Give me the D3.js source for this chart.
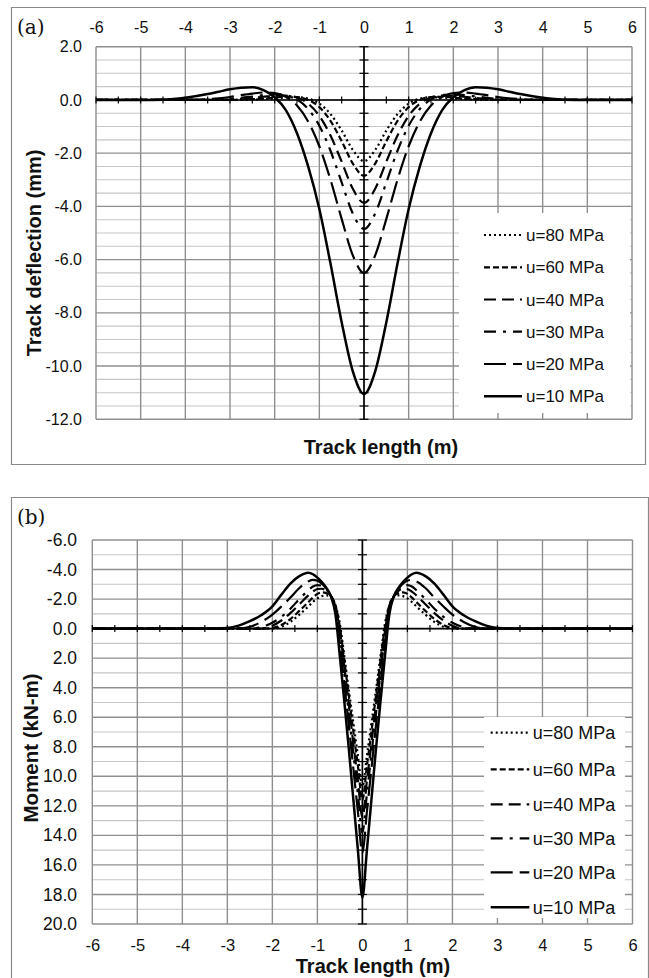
<!DOCTYPE html>
<html><head><meta charset="utf-8">
<script src="https://cdn.jsdelivr.net/npm/d3@7/dist/d3.min.js"></script>
<style>
body{margin:0;background:#fff}
text{font-family:"Liberation Sans",Arial,sans-serif;fill:#111}
</style>
</head><body>
<svg id="chart" width="649" height="978" xmlns="http://www.w3.org/2000/svg"></svg>
<script>
// ---------- data ----------
const seriesLabels = ["u=80 MPa","u=60 MPa","u=40 MPa","u=30 MPa","u=20 MPa","u=10 MPa"];
const xTickValues = [-6,-5,-4,-3,-2,-1,0,1,2,3,4,5,6];
const deflectionTicks = [2,0,-2,-4,-6,-8,-10,-12];
const momentTicks = [-6,-4,-2,0,2,4,6,8,10,12,14,16,18,20];

// Panel (a): track deflection (mm) vs track length (m)
const xDeflection = [-6,-5,-4.5,-4,-3.5,-3.25,-3,-2.75,-2.5,-2.25,-2,-1.75,-1.5,-1.25,-1,-0.75,-0.5,-0.25,0,0.25,0.5,0.75,1,1.25,1.5,1.75,2,2.25,2.5,2.75,3,3.25,3.5,4,4.5,5,6];
const deflection80 = [0,0,0,0,0,0,0,0,0.01,0.03,0.06,0.09,0.1,0.05,-0.14,-0.53,-1.15,-1.88,-2.3,-1.88,-1.15,-0.53,-0.14,0.05,0.1,0.09,0.06,0.03,0.01,0,0,0,0,0,0,0,0];
const deflection60 = [0,0,0,0,0,0,0,0.01,0.03,0.05,0.09,0.12,0.11,0,-0.27,-0.79,-1.55,-2.39,-2.85,-2.39,-1.55,-0.79,-0.27,0,0.11,0.12,0.09,0.05,0.03,0.01,0,0,0,0,0,0,0];
const deflection40 = [0,0,0,0,0,0,0.01,0.04,0.07,0.12,0.16,0.16,0.09,-0.14,-0.6,-1.34,-2.32,-3.34,-3.87,-3.34,-2.32,-1.34,-0.6,-0.14,0.09,0.16,0.16,0.12,0.07,0.04,0.01,0,0,0,0,0,0];
const deflection30 = [0,0,0,0,0,0.01,0.04,0.08,0.13,0.18,0.21,0.18,0.02,-0.34,-0.97,-1.91,-3.1,-4.27,-4.85,-4.27,-3.1,-1.91,-0.97,-0.34,0.02,0.18,0.21,0.18,0.13,0.08,0.04,0.01,0,0,0,0,0];
const deflection20 = [0,0,0,0,0.03,0.06,0.11,0.18,0.24,0.28,0.26,0.12,-0.21,-0.81,-1.74,-3.0,-4.47,-5.84,-6.5,-5.84,-4.47,-3.0,-1.74,-0.81,-0.21,0.12,0.26,0.28,0.24,0.18,0.11,0.06,0.03,0,0,0,0];
const deflection10 = [0,0,0.01,0.08,0.22,0.31,0.4,0.46,0.48,0.37,0.1,-0.38,-1.25,-2.5,-4.1,-6.15,-8.35,-10.2,-11.05,-10.2,-8.35,-6.15,-4.1,-2.5,-1.25,-0.38,0.1,0.37,0.48,0.46,0.4,0.31,0.22,0.08,0.01,0,0];

// Panel (b): moment (kN-m) vs track length (m)
const xMoment = [-6,-5,-4,-3.5,-3,-2.75,-2.5,-2.25,-2,-1.8,-1.6,-1.4,-1.2,-1.1,-1,-0.9,-0.8,-0.7,-0.6,-0.5,-0.4,-0.3,-0.2,-0.1,0,0.1,0.2,0.3,0.4,0.5,0.6,0.7,0.8,0.9,1,1.1,1.2,1.4,1.6,1.8,2,2.25,2.5,2.75,3,3.5,4,5,6];
const moment80 = [0,0,0,0,0,0,0,0,0,-0.12,-0.45,-0.95,-1.5,-1.8,-2.05,-2.2,-2.25,-2.15,-1.6,-0.3,1.9,4.2,6.4,8.6,10.7,8.6,6.4,4.2,1.9,-0.3,-1.6,-2.15,-2.25,-2.2,-2.05,-1.8,-1.5,-0.95,-0.45,-0.12,0,0,0,0,0,0,0,0,0];
const moment60 = [0,0,0,0,0,0,0,0,-0.05,-0.25,-0.65,-1.2,-1.8,-2.1,-2.35,-2.45,-2.4,-2.2,-1.6,-0.1,2.2,4.6,7.0,9.3,11.6,9.3,7.0,4.6,2.2,-0.1,-1.6,-2.2,-2.4,-2.45,-2.35,-2.1,-1.8,-1.2,-0.65,-0.25,-0.05,0,0,0,0,0,0,0,0];
const moment40 = [0,0,0,0,0,0,0,0,-0.2,-0.55,-1.05,-1.65,-2.25,-2.5,-2.68,-2.7,-2.55,-2.2,-1.5,0.2,2.6,5.2,7.8,10.3,12.8,10.3,7.8,5.2,2.6,0.2,-1.5,-2.2,-2.55,-2.7,-2.68,-2.5,-2.25,-1.65,-1.05,-0.55,-0.2,0,0,0,0,0,0,0,0];
const moment30 = [0,0,0,0,0,0,0,-0.1,-0.4,-0.8,-1.35,-2.0,-2.6,-2.85,-2.95,-2.9,-2.65,-2.2,-1.4,0.5,3.1,5.8,8.5,11.2,13.8,11.2,8.5,5.8,3.1,0.5,-1.4,-2.2,-2.65,-2.9,-2.95,-2.85,-2.6,-2.0,-1.35,-0.8,-0.4,-0.1,0,0,0,0,0,0,0];
const moment20 = [0,0,0,0,0,0,-0.12,-0.45,-0.95,-1.5,-2.1,-2.75,-3.2,-3.3,-3.25,-3.05,-2.7,-2.2,-1.3,1.0,3.8,6.6,9.5,12.4,15.2,12.4,9.5,6.6,3.8,1.0,-1.3,-2.2,-2.7,-3.05,-3.25,-3.3,-3.2,-2.75,-2.1,-1.5,-0.95,-0.45,-0.12,0,0,0,0,0,0];
const moment10 = [0,0,0,0,-0.05,-0.2,-0.5,-0.9,-1.5,-2.3,-3.05,-3.55,-3.78,-3.68,-3.45,-3.15,-2.75,-2.2,-1.0,1.9,5.0,8.2,11.6,15.0,18.2,15.0,11.6,8.2,5.0,1.9,-1.0,-2.2,-2.75,-3.15,-3.45,-3.68,-3.78,-3.55,-3.05,-2.3,-1.5,-0.9,-0.5,-0.2,-0.05,0,0,0,0];

// ---------- styles ----------
const dashes = ["2,3","6,3","12,6","12,7,3,7","22,7",null];
const widths = [2.2,2.2,2.2,2.2,2.2,2.5];

const loc = d3.formatLocale({decimal:".",thousands:",",grouping:[3],currency:["$",""],minus:"-"});
const svg = d3.select("#chart");

function drawPanel(o){
  const g = svg.append("g");
  const x = d3.scaleLinear().domain([-6,6]).range([o.left,o.right]);
  const y = d3.scaleLinear().domain(o.yDomain).range([o.top,o.bottom]);
  const yMin = Math.min(...o.yDomain), yMax = Math.max(...o.yDomain);

  // outer frame
  g.append("path").attr("d", o.framePath).attr("fill","none").attr("stroke","#8a8a8a").attr("stroke-width",1.2);

  // label (a)/(b)
  g.append("text").text(o.tag).attr("x",o.tagX).attr("y",o.tagY)
    .style("font-family","'DejaVu Serif',serif").style("font-size","20px");

  // horizontal gridlines
  const minorVals = d3.range(yMin, yMax+1e-9, o.minorStep);
  const isMajor = d => Math.abs(d/o.majorStep - Math.round(d/o.majorStep))<1e-6;
  g.append("g").selectAll("line").data(minorVals).join("line")
    .attr("x1",o.left).attr("x2",o.right).attr("y1",d=>y(d)).attr("y2",d=>y(d))
    .attr("stroke", d => isMajor(d) ? "#8f8f8f" : "#c6c6c6")
    .attr("stroke-width", d => isMajor(d) ? 1.4 : 1.1);
  // vertical gridlines
  g.append("g").selectAll("line").data(xTickValues).join("line")
    .attr("x1",d=>x(d)).attr("x2",d=>x(d)).attr("y1",o.top).attr("y2",o.bottom)
    .attr("stroke","#8f8f8f").attr("stroke-width",1.4);

  // zero axes (black) with crossing ticks
  g.append("line").attr("x1",o.left).attr("x2",o.right).attr("y1",y(0)).attr("y2",y(0))
    .attr("stroke","#000").attr("stroke-width",1.6);
  g.append("line").attr("x1",x(0)).attr("x2",x(0)).attr("y1",o.top).attr("y2",o.bottom)
    .attr("stroke","#000").attr("stroke-width",1.6);
  g.append("g").selectAll("line").data(d3.range(-6,6.001,0.5)).join("line")
    .attr("x1",d=>x(d)).attr("x2",d=>x(d)).attr("y1",y(0)-3.5).attr("y2",y(0)+3.5)
    .attr("stroke","#000").attr("stroke-width",1.2);
  g.append("g").selectAll("line").data(minorVals).join("line")
    .attr("x1",x(0)-4.5).attr("x2",x(0)+4.5).attr("y1",d=>y(d)).attr("y2",d=>y(d))
    .attr("stroke","#000").attr("stroke-width",1.2);

  // curves
  const line = d3.line().x(d=>x(d[0])).y(d=>y(d[1])).curve(d3.curveMonotoneX);
  o.series.forEach((vals,i)=>{
    g.append("path").datum(o.xs.map((xv,k)=>[xv,vals[k]]))
      .attr("d",line).attr("fill","none").attr("stroke","#000")
      .attr("stroke-width",widths[i]).attr("stroke-dasharray",dashes[i]);
  });

  // y tick labels
  const ya = g.append("g").attr("transform",`translate(${o.yLabelRight},0)`)
    .call(d3.axisLeft(y).tickValues(o.yTicks).tickFormat(loc.format(".1f")).tickSize(0).tickPadding(0));
  ya.select(".domain").remove();
  ya.selectAll("text").style("font-size",o.tickFont+"px").attr("fill","#111")
    .style("font-family","'Liberation Sans',Arial,sans-serif");

  // x tick labels
  const xa = g.append("g").attr("transform",`translate(0,${o.xLabelBaseline})`)
    .call(d3.axisTop(x).tickValues(xTickValues).tickFormat(loc.format("d")).tickSize(0).tickPadding(0));
  xa.select(".domain").remove();
  xa.selectAll("text").style("font-size",o.xTickFont+"px").attr("fill","#111")
    .style("font-family","'Liberation Sans',Arial,sans-serif");

  // axis titles
  g.append("text").text("Track length (m)").attr("x",o.xTitleX).attr("y",o.xTitleY)
    .attr("text-anchor","middle").style("font-weight","bold").style("font-size",o.titleFont+"px");
  g.append("text").text(o.yTitle)
    .attr("transform",`translate(${o.yTitleX},${o.yTitleY}) rotate(-90)`)
    .attr("text-anchor","middle").style("font-weight","bold").style("font-size",o.yTitleFont+"px");

  // legend
  const lg = g.append("g");
  lg.append("rect").attr("x",o.leg.x).attr("y",o.leg.y).attr("width",o.leg.w).attr("height",o.leg.h).attr("fill","#fff");
  seriesLabels.forEach((lab,i)=>{
    const ly = o.leg.rows[i];
    lg.append("line").attr("x1",o.leg.lx1).attr("x2",o.leg.lx2).attr("y1",ly).attr("y2",ly)
      .attr("stroke","#000").attr("stroke-width",widths[i]).attr("stroke-dasharray",dashes[i]);
    lg.append("text").text(lab).attr("x",o.leg.tx).attr("y",ly).attr("dy","0.36em")
      .style("font-size",o.legFont+"px");
  });
}

drawPanel({
  tag:"(a)", tagX:17, tagY:34,
  framePath:"M11.5,7.5H645.5V464.5H11.5Z",
  left:96, right:632, top:46.7, bottom:419.3,
  yDomain:[2,-12], minorStep:0.5, majorStep:2, yTicks:deflectionTicks,
  xs:xDeflection, series:[deflection80,deflection60,deflection40,deflection30,deflection20,deflection10],
  yLabelRight:82, xLabelBaseline:33, tickFont:16, xTickFont:16,
  xTitleX:381, xTitleY:454, titleFont:20,
  yTitle:"Track deflection (mm)", yTitleX:41, yTitleY:253, yTitleFont:20,
  legFont:17,
  leg:{x:459,y:213,w:171,h:200,lx1:484,lx2:522,tx:526,rows:[235,267.3,299.5,331.7,364,396.3]}
});

drawPanel({
  tag:"(b)", tagX:17, tagY:524,
  framePath:"M11.5,990V497.5H648.5V990",
  left:92.3, right:632.5, top:540, bottom:924,
  yDomain:[-6,20], minorStep:1, majorStep:2, yTicks:momentTicks,
  xs:xMoment, series:[moment80,moment60,moment40,moment30,moment20,moment10],
  yLabelRight:77, xLabelBaseline:950.5, tickFont:17.5, xTickFont:16.5,
  xTitleX:373, xTitleY:973, titleFont:20,
  yTitle:"Moment (kN-m)", yTitleX:38, yTitleY:748, yTitleFont:20.5,
  legFont:18,
  leg:{x:484,y:717,w:141,h:201,lx1:490.7,lx2:529.3,tx:532.7,rows:[732.7,769.3,804.3,838.3,872.3,907.3]}
});
</script>
</body></html>
